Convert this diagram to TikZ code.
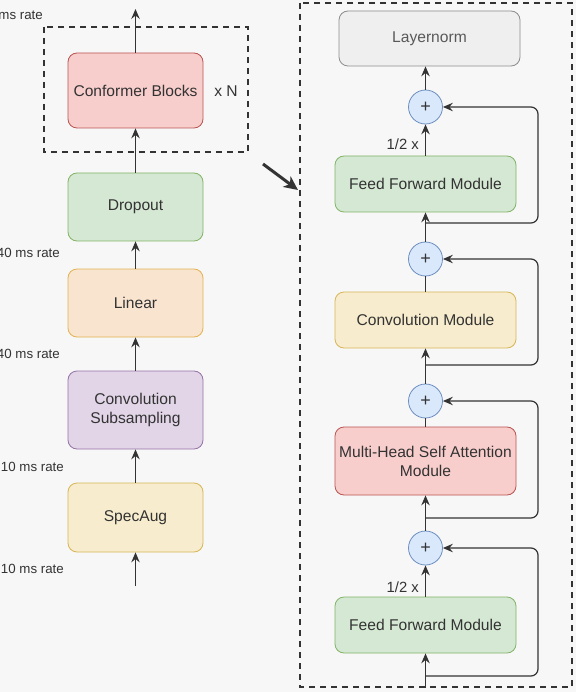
\documentclass[tikz,border=0pt]{standalone}
\usepackage{fontspec}
\setmainfont{Liberation Sans}
\usetikzlibrary{arrows.meta}

\definecolor{bgcol}{HTML}{F7F7F7}
\definecolor{txtcol}{HTML}{333333}
\definecolor{redfill}{HTML}{F8CECC}
\definecolor{redline}{HTML}{B85450}
\definecolor{greenfill}{HTML}{D5E8D4}
\definecolor{greenline}{HTML}{82B366}
\definecolor{orangefill}{HTML}{F9E4D0}
\definecolor{orangeline}{HTML}{E2B350}
\definecolor{purplefill}{HTML}{E1D5E7}
\definecolor{purpleline}{HTML}{9673A6}
\definecolor{yellowfill}{HTML}{F7ECCD}
\definecolor{yellowline}{HTML}{D6B656}
\definecolor{grayfill}{HTML}{EFEFEF}
\definecolor{grayline}{HTML}{8C8C8C}
\definecolor{graytxt}{HTML}{595959}
\definecolor{bluefill}{HTML}{DAE8FC}
\definecolor{blueline}{HTML}{6C8EBF}

\begin{document}
\begin{tikzpicture}[x=1pt,y=-1pt,
	box/.style={draw, rounded corners=9pt, line width=0.8pt, inner sep=0pt, align=center, text=txtcol, font=\fontsize{15.6}{19}\selectfont},
	lbox/.style={box, minimum width=135pt},
	rbox/.style={box, minimum width=181pt},
	plus/.style={circle, draw=blueline, fill=bluefill, line width=0.8pt, minimum size=34pt, inner sep=0pt, text=txtcol, font=\fontsize{18}{18}\selectfont},
	arr/.style={-{Stealth[length=10pt,width=8.5pt,inset=3.5pt]}, line width=1.2pt, draw=txtcol},
	link/.style={line width=1.2pt, draw=txtcol},
	rate/.style={anchor=east, inner sep=0pt, text=txtcol, font=\fontsize{13.3}{16}\selectfont},
	half/.style={anchor=east, inner sep=0pt, text=txtcol, font=\fontsize{14.8}{18}\selectfont},
	frame/.style={draw=txtcol, line width=2pt, dash pattern=on 6pt off 5pt}]

	\fill[bgcol] (0,0) rectangle (576,692);
	\useasboundingbox (0,0) rectangle (576,692);

	% encoder stack
	\node[lbox, fill=redfill, draw=redline, minimum height=75pt] (conf) at (135.5,90.5) {Conformer Blocks};
	\node[lbox, fill=greenfill, draw=greenline, minimum height=68pt] (drop) at (135.5,207) {Dropout};
	\node[lbox, fill=orangefill, draw=orangeline, minimum height=68pt] (lin) at (135.5,303) {Linear};
	\node[lbox, fill=purplefill, draw=purpleline, minimum height=78pt] (sub) at (135.5,410) {Convolution\\Subsampling};
	\node[lbox, fill=yellowfill, draw=yellowline, minimum height=69pt] (spec) at (135.5,517.5) {SpecAug};

	\coordinate (out) at (135.5,9);
	\coordinate (in) at (135.5,586);

	\draw[arr] (conf.north) -- (out);
	\draw[arr] (drop.north) -- (conf.south);
	\draw[arr] (lin.north) -- (drop.south);
	\draw[arr] (sub.north) -- (lin.south);
	\draw[arr] (spec.north) -- (sub.south);
	\draw[arr] (in) -- (spec.south);

	\draw[frame] (44,27) rectangle (248,152);
	\node[text=txtcol, font=\fontsize{15.6}{19}\selectfont] (times) at (226,91) {x N};

	\node[rate] (r0) at (43,15) {40 ms rate};
	\node[rate] (r1) at (60,253) {40 ms rate};
	\node[rate] (r2) at (60,354) {40 ms rate};
	\node[rate] (r3) at (64,467) {10 ms rate};
	\node[rate] (r4) at (64,569) {10 ms rate};

	\draw[-{Stealth[length=14pt,width=13pt,inset=4pt]}, line width=3pt, txtcol] (263,164) -- (298,190);

	% conformer block
	\draw[frame] (300,3) rectangle (572,687);

	\node[box, fill=grayfill, draw=grayline, text=graytxt, minimum width=181pt, minimum height=55pt] (norm) at (429.5,38.5) {Layernorm};
	\node[rbox, fill=greenfill, draw=greenline, minimum height=56pt] (ff1) at (425.5,184) {Feed Forward Module};
	\node[rbox, fill=yellowfill, draw=yellowline, minimum height=56pt] (conv) at (425.5,320) {Convolution Module};
	\node[rbox, fill=redfill, draw=redline, minimum height=68pt] (mhsa) at (425.5,461) {Multi-Head Self Attention\\Module};
	\node[rbox, fill=greenfill, draw=greenline, minimum height=56pt] (ff2) at (425.5,625) {Feed Forward Module};

	\node[plus] (p1) at (425.5,107) {+};
	\node[plus] (p2) at (425.5,259) {+};
	\node[plus] (p3) at (425.5,401) {+};
	\node[plus] (p4) at (425.5,548) {+};

	\coordinate (bin) at (425.5,688);
	\coordinate (s1) at (425.5,223);
	\coordinate (s2) at (425.5,365);
	\coordinate (s3) at (425.5,518);
	\coordinate (s4) at (425.5,676);

	\draw[arr] (bin) -- (ff2.south);
	\draw[arr] (ff2.north) -- (p4.south);
	\draw[arr] (p4.north) -- (mhsa.south);
	\draw[link] (mhsa.north) -- (p3.south);
	\draw[arr] (p3.north) -- (conv.south);
	\draw[link] (conv.north) -- (p2.south);
	\draw[arr] (p2.north) -- (ff1.south);
	\draw[arr] (ff1.north) -- (p1.south);
	\draw[arr] (p1.north) -- (p1.north |- norm.south);

	\draw[arr, rounded corners=7pt] (s4) -- ++(112.5,0) |- (p4.east);
	\draw[arr, rounded corners=7pt] (s3) -- ++(112.5,0) |- (p3.east);
	\draw[arr, rounded corners=7pt] (s2) -- ++(112.5,0) |- (p2.east);
	\draw[arr, rounded corners=7pt] (s1) -- ++(112.5,0) |- (p1.east);

	\node[half] (h1) at (419,144) {1/2 x};
	\node[half] (h2) at (419,587) {1/2 x};

\end{tikzpicture}
\end{document}
